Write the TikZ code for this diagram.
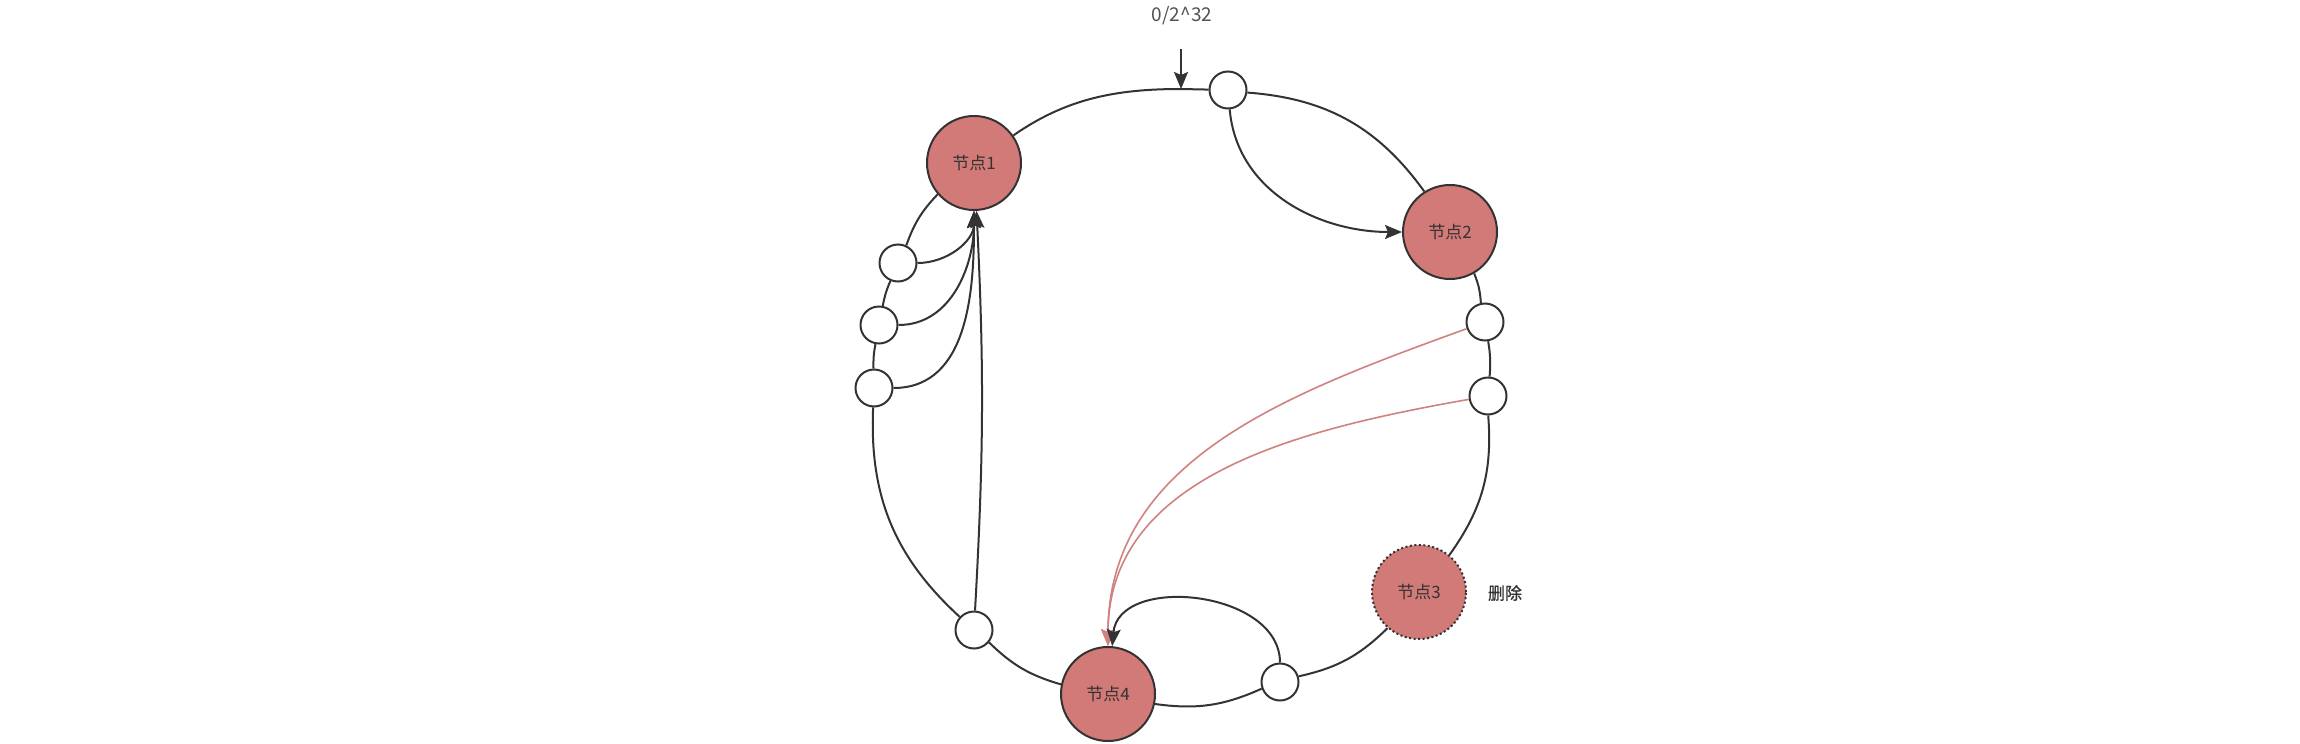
\documentclass[tikz,border=0pt]{standalone}
\usepackage{fontspec}
\setmainfont{Noto Sans CJK SC}
\newfontfamily\boldcjk[FakeBold=0.8]{Noto Sans CJK SC}
\usetikzlibrary{arrows.meta}
\definecolor{nodered}{RGB}{209,122,120}
\definecolor{linkred}{RGB}{208,130,128}
\definecolor{ringgray}{RGB}{51,51,51}

\begin{document}
\begin{tikzpicture}[x=1pt, y=1pt,
    ring/.style={line width=2pt, draw=ringgray},
    redlink/.style={line width=1.6pt, draw=linkred},
    server/.style={circle, draw=ringgray, line width=2pt, fill=nodered, minimum size=94pt, inner sep=0pt, text=ringgray, font=\fontsize{17}{20}\selectfont},
    key/.style={circle, draw=ringgray, line width=2pt, fill=white, minimum size=37pt, inner sep=0pt},
    arr/.style={-{Stealth[length=17pt, width=14pt, inset=3pt]}}
]
    \fill[white] (0,0) rectangle (2300,-744);
    \useasboundingbox (0,0) rectangle (2300,-744);

    % servers and keys on the ring
    \node[server] (n1) at (974,-163) {节点1};
    \node[server] (n2) at (1450,-232) {节点2};
    \node[server, dash pattern=on 2pt off 2.5pt] (n3) at (1419,-592) {节点3};
    \node[server] (n4) at (1108,-694) {节点4};
    \node[key] (c0) at (1228,-90) {};
    \node[key] (r1) at (1485,-322) {};
    \node[key] (r2) at (1488,-396) {};
    \node[key] (cb) at (1280,-682) {};
    \node[key] (cbl) at (974,-630) {};
    \node[key] (l3) at (874,-388) {};
    \node[key] (l2) at (879,-325) {};
    \node[key] (l1) at (898,-263) {};
    \coordinate (top) at (1181,-89);
    \coordinate (start) at (1181,-49);
    \node[text=ringgray!85, font=\fontsize{19}{22}\selectfont] (zero) at (1182,-16) {0/2\textasciicircum32};
    \node[text=ringgray, font=\boldcjk\fontsize{17}{20}\selectfont] (del) at (1505,-593) {删除};

    % the ring
    \draw[ring] (n1) to[out=35, in=180, looseness=0.95] (top) -- (c0);
    \draw[ring] (c0) to[bend left=25] (n2);
    \draw[ring] (n2) to[bend left=9] (r1);
    \draw[ring] (r1) to[bend left=7] (r2);
    \draw[ring] (r2) to[bend left=20] (n3);
    \draw[ring] (n3) to[bend left=16] (cb);
    \draw[ring] (cb) to[bend left=16] (n4);
    \draw[ring] (n4) to[bend left=14] (cbl);
    \draw[ring] (cbl) to[bend left=25] (l3);
    \draw[ring] (l3) to[bend left=6] (l2);
    \draw[ring] (l2) to[bend left=6] (l1);
    \draw[ring] (l1) to[bend left=12] (n1);

    % keys to servers
    \draw[ring, arr] (start) -- (top);
    \draw[ring, arr] (c0) to[out=-85, in=180] (n2);
    \draw[ring, arr] (l1) to[out=0, in=-90] (n1);
    \draw[ring, arr] (l2) to[out=0, in=-90] (n1);
    \draw[ring, arr] (l3) to[out=0, in=-90] (n1);
    \draw[ring, arr] (cbl) to[bend right=3] (n1);
    \draw[redlink, arr] (r1) to[out=200, in=90] (n4);
    \draw[redlink, arr] (r2) to[out=190, in=90] (n4);
    \draw[ring, arr] (cb) to[out=90, in=85, looseness=1.1] (n4);
\end{tikzpicture}
\end{document}
